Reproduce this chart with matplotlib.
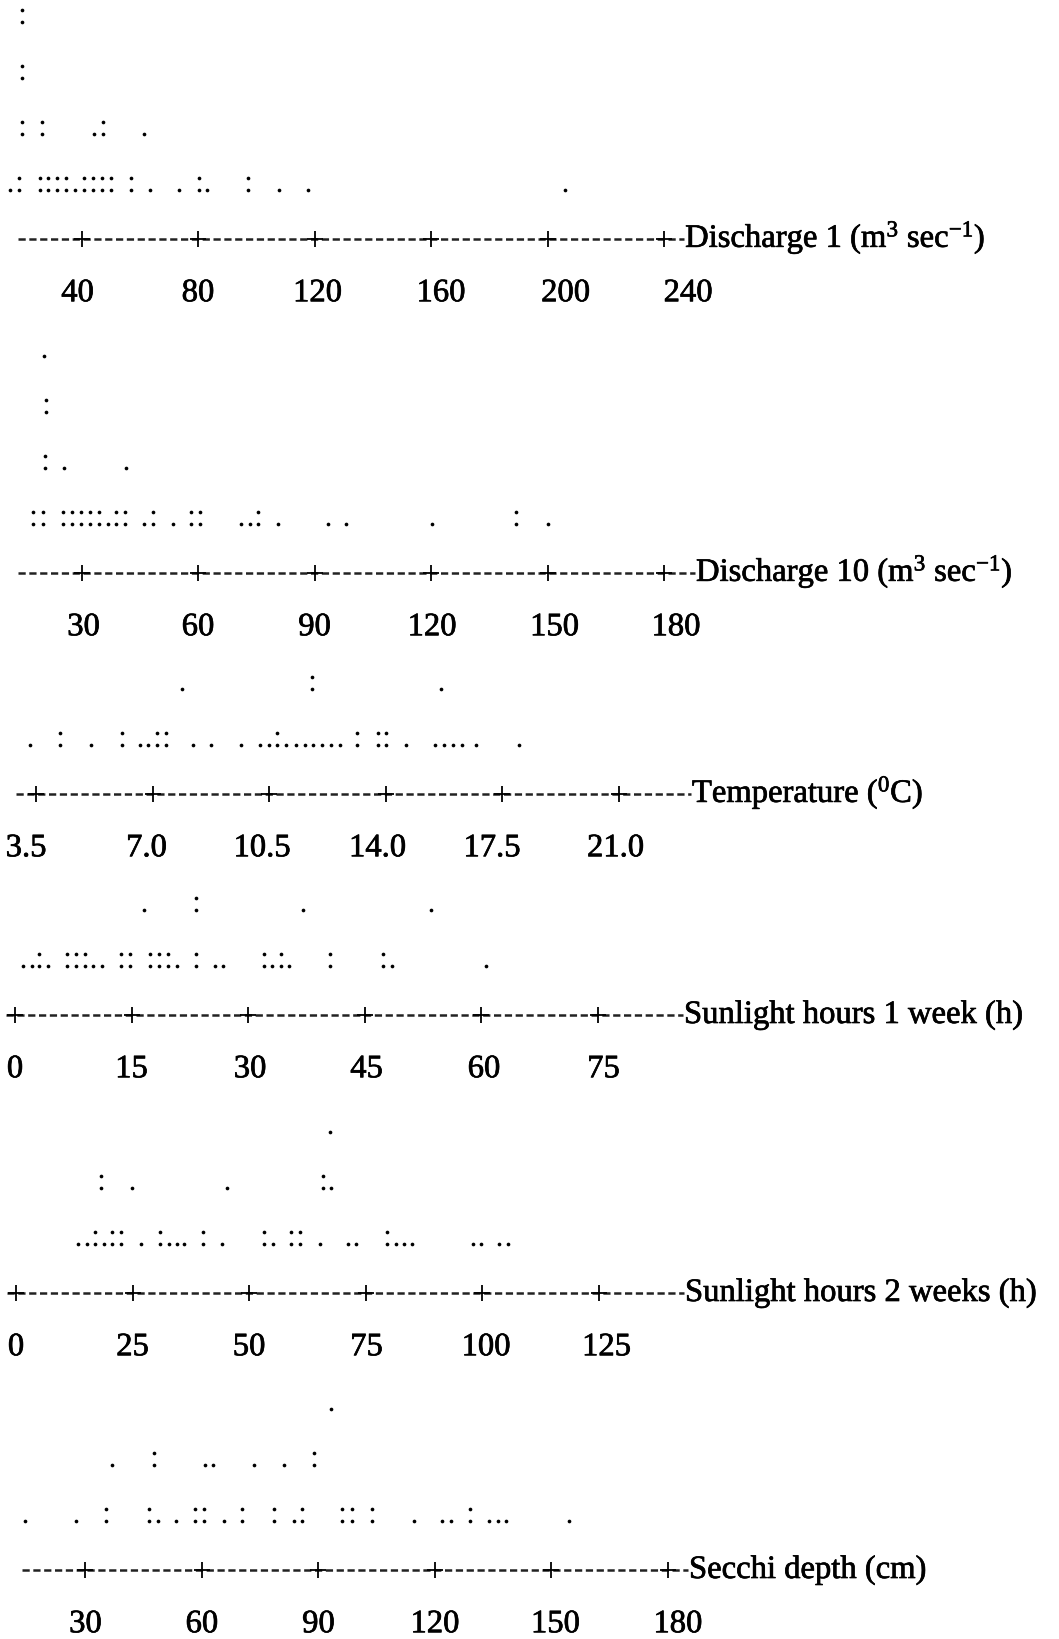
import matplotlib
matplotlib.use("Agg")
import matplotlib.pyplot as plt
import matplotlib.patheffects as pe

plt.rcParams["font.family"] = ["Liberation Serif", "DejaVu Serif"]
plt.rcParams["mathtext.default"] = "regular"
plt.rcParams["lines.scale_dashes"] = False

# character dotplots: one list per text row, bottom row first
# (value, n) -> n = 1 is ".", n = 2 is ":"
discharge1_rows = [
    [(15.6, 1), (18.5, 2), (25.6, 2), (28.5, 2), (31.6, 2), (34.7, 2), (37.7, 1),
     (40.7, 2), (43.8, 2), (46.9, 2), (50.0, 2), (56.9, 2), (63.5, 1), (73.6, 1),
     (80.3, 2), (83.1, 1), (97.2, 2), (107.8, 1), (117.9, 1), (206.0, 1)],
    [(19.7, 2), (26.6, 2), (44.4, 1), (47.4, 2), (61.6, 1)],
    [(19.7, 2)],
    [(19.6, 2)],
]
discharge10_rows = [
    [(17.6, 2), (20.1, 2), (25.2, 2), (27.5, 2), (29.8, 2), (32.1, 2), (34.4, 2),
     (36.7, 1), (38.9, 2), (41.2, 2), (46.2, 1), (48.5, 2), (53.6, 1), (58.3, 2),
     (60.6, 2), (71.0, 1), (73.3, 1), (75.4, 2), (80.5, 1), (93.6, 1), (98.2, 1),
     (120.2, 1), (141.9, 2), (150.0, 1)],
    [(20.6, 2), (25.5, 1), (41.5, 1)],
    [(20.8, 2)],
    [(20.4, 1)],
]
temperature_rows = [
    [(3.32, 1), (4.23, 2), (5.14, 1), (6.07, 2), (6.61, 1), (6.87, 1), (7.13, 2),
     (7.40, 2), (8.22, 1), (8.76, 1), (9.67, 1), (10.24, 1), (10.51, 1), (10.75, 2),
     (11.02, 1), (11.30, 1), (11.57, 1), (11.83, 1), (12.10, 1), (12.37, 1),
     (12.64, 1), (13.15, 2), (13.76, 2), (14.03, 2), (14.61, 1), (15.49, 1),
     (15.76, 1), (16.03, 1), (16.30, 1), (16.71, 1), (18.00, 1)],
    [(7.90, 1), (11.80, 2), (15.68, 1)],
]
sun1_rows = [
    [(1.07, 1), (2.14, 1), (3.15, 2), (4.21, 1), (6.71, 2), (7.87, 2), (9.03, 2),
     (10.08, 1), (11.24, 1), (13.65, 2), (14.79, 2), (17.34, 2), (18.49, 2),
     (19.65, 2), (20.81, 1), (23.25, 2), (25.70, 1), (26.82, 1), (32.03, 2),
     (33.10, 1), (34.21, 2), (35.26, 1), (40.58, 2), (47.38, 2), (48.54, 1),
     (60.69, 1)],
    [(16.56, 1), (23.25, 2), (37.12, 1), (53.52, 1)],
]
sun2_rows = [
    [(13.35, 1), (15.21, 1), (16.97, 2), (18.91, 1), (20.60, 2), (22.60, 2),
     (26.76, 1), (30.84, 2), (32.77, 1), (34.55, 1), (36.07, 1), (40.09, 2),
     (44.31, 1), (53.18, 2), (55.11, 1), (58.95, 2), (60.88, 2), (65.13, 1),
     (71.29, 1), (73.05, 1), (79.59, 2), (81.44, 1), (83.22, 1), (85.00, 1),
     (98.09, 1), (99.79, 1), (103.63, 1), (105.56, 1)],
    [(18.28, 2), (24.91, 1), (45.26, 1), (65.88, 2), (67.58, 1)],
    [(67.43, 1)],
]
secchi_rows = [
    [(14.44, 1), (27.63, 1), (35.43, 2), (46.33, 2), (48.62, 1), (53.38, 1),
     (58.23, 2), (60.49, 2), (65.64, 1), (70.41, 2), (78.52, 2), (83.59, 1),
     (85.76, 2), (96.16, 2), (98.63, 2), (103.78, 2), (114.50, 1), (121.91, 1),
     (124.10, 1), (129.05, 2), (133.99, 1), (136.28, 1), (138.27, 1), (154.41, 1)],
    [(36.93, 1), (47.62, 2), (60.80, 1), (62.78, 1), (73.37, 1), (81.09, 1),
     (88.92, 2)],
    [(93.20, 1)],
]

discharge1_ticks = [40, 80, 120, 160, 200, 240]
discharge10_ticks = [30, 60, 90, 120, 150, 180]
temperature_ticks = [3.5, 7.0, 10.5, 14.0, 17.5, 21.0]
sun1_ticks = [0, 15, 30, 45, 60, 75]
sun2_ticks = [0, 25, 50, 75, 100, 125]
secchi_ticks = [30, 60, 90, 120, 150, 180]

titles = [
    r"Discharge 1 (m$^{3}$ sec$^{-1}$)",
    r"Discharge 10 (m$^{3}$ sec$^{-1}$)",
    r"Temperature ($^{0}$C)",
    "Sunlight hours 1 week (h)",
    "Sunlight hours 2 weeks (h)",
    "Secchi depth (cm)",
]

# layout in pixels: axis row, first "+", dashes before/after, tick label nudges
panels = [
    dict(rows=discharge1_rows, ticks=discharge1_ticks, fmt="{:g}", axis_y=239, x0=81.5,
         lead=5, tail=1, nudge=[-4, 0, 3, 10, 18, 24]),
    dict(rows=discharge10_rows, ticks=discharge10_ticks, fmt="{:g}", axis_y=573, x0=81.5,
         lead=5, tail=2, nudge=[2, 0, 0, 1, 7, 12]),
    dict(rows=temperature_rows, ticks=temperature_ticks, fmt="{:.1f}", axis_y=794, x0=36,
         lead=1, tail=5.8, nudge=[-10, -6, -7, -8, -10, -3]),
    dict(rows=sun1_rows, ticks=sun1_ticks, fmt="{:g}", axis_y=1015, x0=15,
         lead=0, tail=7, nudge=[0, 0, 2, 2, 3, 6]),
    dict(rows=sun2_rows, ticks=sun2_ticks, fmt="{:g}", axis_y=1293, x0=16,
         lead=0, tail=7, nudge=[0, 0, 0, 1, 4, 8]),
    dict(rows=secchi_rows, ticks=secchi_ticks, fmt="{:g}", axis_y=1570, x0=85.4,
         lead=5, tail=1, nudge=[0, 0, 0, 0, 4, 10]),
]

W, H = 1059, 1639
TICK_PITCH = 116.5   # px between "+" signs
DASH = 10.9          # px per "-"
HALF_PLUS = 9.2
FIRST_ROW = 49       # px from axis up to the bottom dot row
ROW_GAP = 56         # px between text rows
COLON_GAP = 12       # px between the two dots of ":"
FS = 23.5
heavy = [pe.withStroke(linewidth=0.5, foreground="black")]  # scanned text looks a bit bolder

fig = plt.figure(figsize=(W / 100, H / 100), dpi=100)

for p, title in zip(panels, titles):
    ax = fig.add_axes([0, 0, 1, 1])
    ax.axis("off")
    ax.patch.set_alpha(0)
    ticks = p["ticks"]
    scale = TICK_PITCH / (ticks[1] - ticks[0])   # px per data unit
    left = ticks[0] - p["x0"] / scale
    ax.set_xlim(left, left + W / scale)
    ax.set_ylim(-(H - p["axis_y"]), p["axis_y"])   # y in px, 0 on the axis row

    xs, ys = [], []
    for r, row in enumerate(p["rows"]):
        for v, n in row:
            for k in range(n):
                xs.append(v)
                ys.append(FIRST_ROW + ROW_GAP * r + COLON_GAP * k)
    ax.scatter(xs, ys, s=7, color="black", marker="o", linewidths=0)

    start = ticks[0] - (HALF_PLUS + p["lead"] * DASH) / scale
    end = ticks[-1] + (HALF_PLUS + p["tail"] * DASH) / scale
    ax.plot([start, end], [0, 0], color="#222222", lw=1.8, dashes=(5.2, 2.6))
    ax.plot(ticks, [0] * len(ticks), ls="none", marker="+", ms=12, mew=1.3, color="black")

    for t, dx in zip(ticks, p["nudge"]):
        ax.text(t + dx / scale, -54, p["fmt"].format(t), ha="center", va="center",
                fontsize=FS, path_effects=heavy)
    ax.text(end + 1 / scale, -8, title, ha="left", va="baseline", fontsize=FS,
            path_effects=heavy)

fig.savefig("out.png", dpi=100)
